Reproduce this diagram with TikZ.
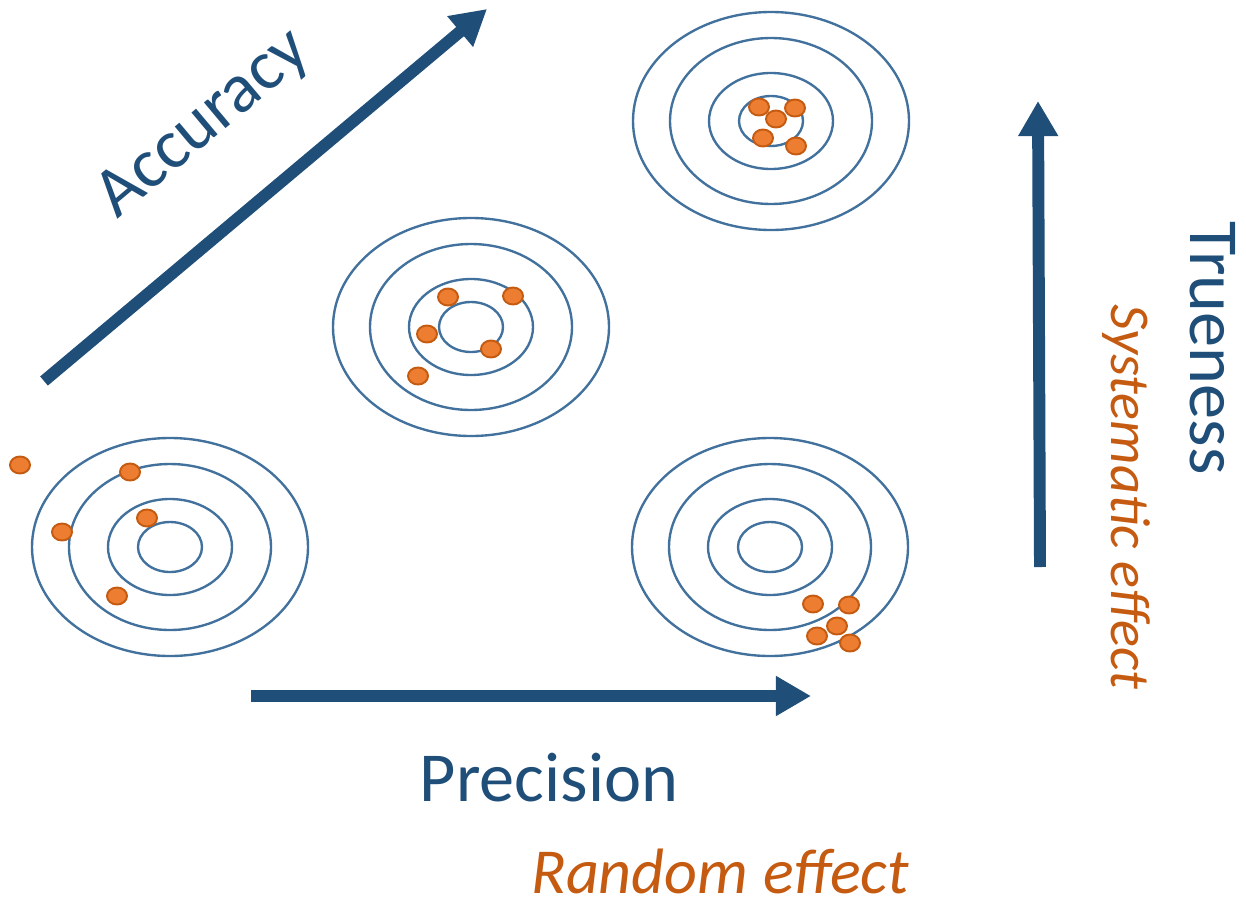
\documentclass[tikz,border=0pt]{standalone}
\usepackage{fontspec}
\setmainfont{Carlito}
\usetikzlibrary{arrows.meta}
\definecolor{axisblue}{RGB}{31,78,121}
\definecolor{ringblue}{RGB}{65,113,156}
\definecolor{hitfill}{RGB}{237,125,49}
\definecolor{hitedge}{RGB}{197,90,17}

\begin{document}
\begin{tikzpicture}[x=0.02cm, y=-0.02cm,
    ring/.style={draw=ringblue, line width=1.35pt},
    hit/.style={fill=hitfill, draw=hitedge, line width=1.1pt},
    bigarrow/.style={axisblue, line width=6.8pt, -{Triangle[length=20pt, width=21.5pt]}},
    bigtext/.style={text=axisblue, font=\fontsize{40}{48}\selectfont},
    efftext/.style={text=hitedge, inner sep=0pt, font=\itshape\fontsize{36.5}{43}\selectfont}]
  \useasboundingbox (0,0) rectangle (1246,906);

  % 的の同心楕円
  \foreach \t/\cx/\cy in {tr/771/121, mid/471/327, bl/170/547, br/770/547} {
    \coordinate (\t) at (\cx,\cy);
    \foreach \rx/\ry in {138/109, 101/83, 62/48, 32/25}
      \draw[ring] (\t) ellipse [x radius=\rx, y radius=\ry];
  }

  % 着弾点
  \foreach \px/\py in {759/107, 795/108, 776/119, 763/138, 796/146,
                       448/297, 513/296, 427/334, 491/349, 418/376,
                       20/465, 130/472, 62/532, 147/518, 117/596,
                       813/604, 849/605, 837/626, 817/636, 850/643}
    \draw[hit] (\px,\py) ellipse [x radius=10, y radius=8.5];

  % 矢印の端点
  \coordinate (acc start) at (44,381);
  \coordinate (acc end) at (487,9);
  \coordinate (prec start) at (251,696);
  \coordinate (prec end) at (811,696);
  \coordinate (true start) at (1040,567);
  \coordinate (true end) at (1038,101);

  % 矢印
  \draw[bigarrow] (acc start) -- (acc end);
  \draw[bigarrow] (prec start) -- (prec end);
  \draw[bigarrow] (true start) -- (true end);

  % ラベル
  \node[bigtext, rotate=40] (accuracy) at (204,125) {Accuracy};
  \node[bigtext] (precision) at (549,778) {Precision};
  \node[bigtext, rotate=-90] (trueness) at (1213,348) {Trueness};
  \node[efftext] (random) at (720,871) {Random effect};
  \node[efftext, font=\itshape\fontsize{32}{38}\selectfont, rotate=-90] (systematic) at (1126,497) {Systematic effect};
\end{tikzpicture}
\end{document}
